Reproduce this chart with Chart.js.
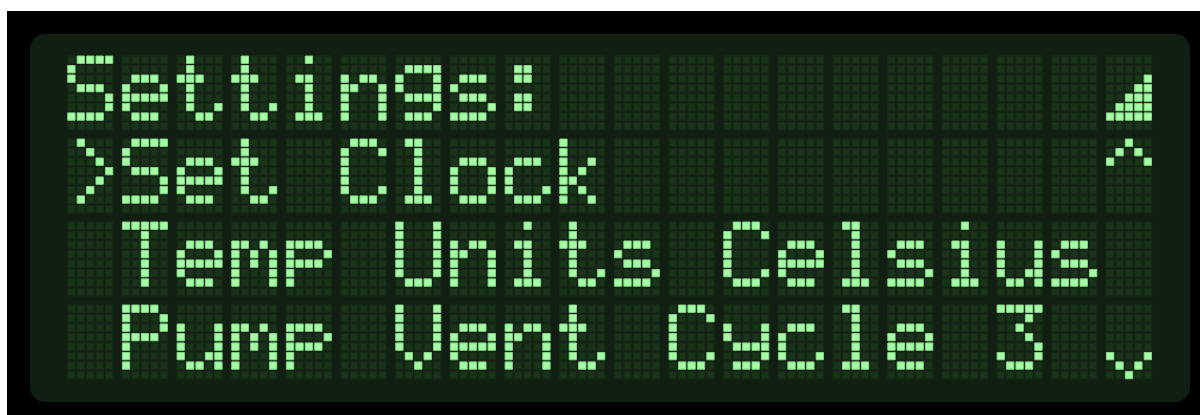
<!DOCTYPE html>
<html>
<head>
<meta charset="utf-8">
<title>LCD settings menu</title>
<script src="https://cdn.jsdelivr.net/npm/chart.js@4/dist/chart.umd.min.js"></script>
<style>
  html, body { margin: 0; padding: 0; background: #fff; width: 1200px; height: 415px; overflow: hidden; }
  #frame { position: absolute; left: 7px; top: 11px; width: 1193px; height: 404px; background: #000; }
  #panel { position: absolute; left: 30px; top: 33.5px; width: 1159.5px; height: 368px; background: #111f12; border-radius: 15px; }
  #wrap { position: absolute; left: 0; top: 0; width: 1200px; height: 415px; }
</style>
</head>
<body>
<div id="frame"></div>
<div id="panel"></div>
<div id="wrap"><canvas id="lcd" width="1200" height="415"></canvas></div>
<script>
const displayLines = [
  "Settings:          \u0001",
  ">Set Clock         \u0002",
  " Temp Units Celsius ",
  " Pump Vent Cycle 3 \u0003"
];
const glyphS     = ".####|#....|#....|.###.|....#|....#|####.|.....";
const glyphE     = ".....|.....|.###.|#...#|#####|#....|.###.|.....";
const glyphT     = ".#...|.#...|###..|.#...|.#...|.#..#|..##.|.....";
const glyphI     = "..#..|.....|.##..|..#..|..#..|..#..|.###.|.....";
const glyphN     = ".....|.....|#.##.|##..#|#...#|#...#|#...#|.....";
const glyphG     = ".....|.####|#...#|#...#|.####|....#|.###.|.....";
const glyphLowS  = ".....|.....|.###.|#....|.###.|....#|####.|.....";
const glyphColon = ".....|.##..|.##..|.....|.##..|.##..|.....|.....";
const glyphGt    = ".#...|..#..|...#.|....#|...#.|..#..|.#...|.....";
const glyphC     = ".###.|#...#|#....|#....|#....|#...#|.###.|.....";
const glyphL     = ".##..|..#..|..#..|..#..|..#..|..#..|.###.|.....";
const glyphO     = ".....|.....|.###.|#...#|#...#|#...#|.###.|.....";
const glyphLowC  = ".....|.....|.###.|#....|#....|#...#|.###.|.....";
const glyphK     = "#....|#....|#..#.|#.#..|##...|#.#..|#..#.|.....";
const glyphCapT  = "#####|..#..|..#..|..#..|..#..|..#..|..#..|.....";
const glyphM     = ".....|.....|##.#.|#.#.#|#.#.#|#...#|#...#|.....";
const glyphP     = ".....|.....|####.|#...#|####.|#....|#....|.....";
const glyphCapP  = "####.|#...#|#...#|####.|#....|#....|#....|.....";
const glyphU     = ".....|.....|#...#|#...#|#...#|#..##|.##.#|.....";
const glyphCapU  = "#...#|#...#|#...#|#...#|#...#|#...#|.###.|.....";
const glyphCapV  = "#...#|#...#|#...#|#...#|#...#|.#.#.|..#..|.....";
const glyphY     = ".....|.....|#...#|#...#|.####|....#|.###.|.....";
const glyph3     = "#####|...#.|..#..|...#.|....#|#...#|.###.|.....";
const glyphSpace = ".....|.....|.....|.....|.....|.....|.....|.....";
const glyphBars  = ".....|.....|....#|...##|..###|.####|#####|.....";
const glyphUp    = "..#..|.#.#.|#...#|.....|.....|.....|.....|.....";
const glyphDown  = ".....|.....|.....|.....|.....|#...#|.#.#.|..#..";

const glyphTable = {
  "S": glyphS, "e": glyphE, "t": glyphT, "i": glyphI, "n": glyphN, "g": glyphG,
  "s": glyphLowS, ":": glyphColon, ">": glyphGt, "C": glyphC, "l": glyphL,
  "o": glyphO, "c": glyphLowC, "k": glyphK, "T": glyphCapT, "m": glyphM,
  "p": glyphP, "P": glyphCapP, "u": glyphU, "U": glyphCapU, "V": glyphCapV,
  "y": glyphY, "3": glyph3, " ": glyphSpace,
  "\u0001": glyphBars, "\u0002": glyphUp, "\u0003": glyphDown
};

// Layout of the dot grid, in canvas pixels
const W = 1200, H = 415;
const originX = 71.4, originY = 59.7;
const dotX = 9.42, dotY = 9.48;
const charStep = 54.67 / dotX, lineStep = 83.0 / dotY;

const litDots = [], darkDots = [];
displayLines.forEach((line, r) => {
  Array.from(line).forEach((ch, c) => {
    glyphTable[ch].split("|").forEach((rowBits, gy) => {
      Array.from(rowBits).forEach((bit, gx) => {
        const pt = { x: c * charStep + gx, y: r * lineStep + gy };
        (bit === "#" ? litDots : darkDots).push(pt);
      });
    });
  });
});

new Chart(document.getElementById("lcd"), {
  type: "scatter",
  data: {
    datasets: [
      { label: "off", data: darkDots, pointStyle: "rect", pointRadius: 5.2,
        backgroundColor: "#1a3419", borderColor: "#162a17", pointBorderWidth: 1.4 },
      { label: "on", data: litDots, pointStyle: "rect", pointRadius: 5.2,
        backgroundColor: "#a4ffa5", borderColor: "#86d488", pointBorderWidth: 1 }
    ]
  },
  options: {
    responsive: false,
    animation: false,
    events: [],
    layout: { padding: 0, autoPadding: false },
    plugins: { legend: { display: false }, title: { display: false }, tooltip: { enabled: false } },
    scales: {
      x: { type: "linear", display: false, min: -originX / dotX, max: (W - originX) / dotX },
      y: { type: "linear", display: false, reverse: true, min: -originY / dotY, max: (H - originY) / dotY }
    }
  }
});
</script>
</body>
</html>
